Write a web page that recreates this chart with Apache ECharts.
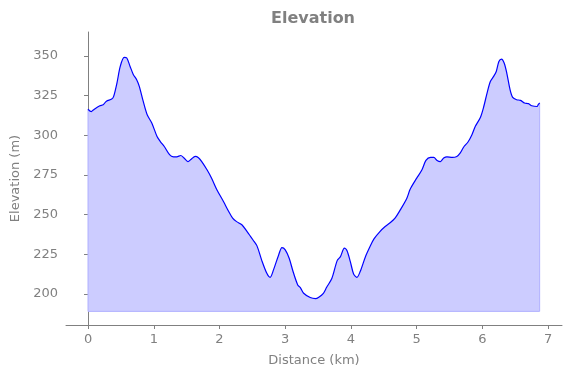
<!DOCTYPE html>
<html>
<head>
<meta charset="utf-8">
<script src="https://cdn.jsdelivr.net/npm/echarts@6/dist/echarts.min.js"></script>
<style>
  html, body { margin: 0; padding: 0; background: #fff; }
  #chart { width: 571px; height: 378px; }
</style>
</head>
<body>
<div id="chart"></div>
<script>
// distance along the track (km)
const distance = [
  0.00, 0.05, 0.08, 0.18, 0.23, 0.28, 0.36, 0.39, 0.44, 0.49,
  0.55, 0.59, 0.64, 0.69, 0.74, 0.78, 0.84, 0.90, 0.97, 1.05,
  1.10, 1.16, 1.24, 1.30, 1.35, 1.41, 1.46, 1.52, 1.57, 1.63,
  1.68, 1.73, 1.81, 1.88, 1.96, 2.06, 2.14, 2.20, 2.26, 2.34,
  2.42, 2.51, 2.57, 2.64, 2.72, 2.77, 2.82, 2.90, 2.95, 3.00,
  3.06, 3.12, 3.19, 3.23, 3.28, 3.38, 3.46, 3.51, 3.58, 3.63,
  3.71, 3.79, 3.84, 3.90, 3.94, 3.99, 4.04, 4.09, 4.14, 4.22,
  4.29, 4.35, 4.44, 4.52, 4.60, 4.67, 4.75, 4.85, 4.90, 5.00,
  5.08, 5.14, 5.21, 5.26, 5.31, 5.36, 5.41, 5.46, 5.54, 5.61,
  5.66, 5.72, 5.78, 5.84, 5.89, 5.97, 6.02, 6.07, 6.12, 6.17,
  6.21, 6.25, 6.29, 6.33, 6.37, 6.42, 6.46, 6.52, 6.58, 6.64,
  6.70, 6.75, 6.83, 6.85, 6.87
];
// elevation (m)
const elevation = [
  316.5, 315.0, 316.0, 318.7, 319.3, 321.6, 322.9, 324.6, 333.0, 343.5,
  349.2, 348.8, 343.5, 338.3, 335.1, 330.9, 321.4, 313.0, 307.8, 299.3,
  296.1, 293.0, 287.8, 286.5, 286.5, 287.3, 285.7, 283.5, 285.0, 286.7,
  285.9, 283.5, 278.3, 273.0, 265.7, 258.3, 252.0, 247.8, 245.6, 243.6,
  239.3, 234.0, 230.3, 221.5, 213.0, 210.5, 215.0, 224.6, 229.2, 227.8,
  222.5, 214.0, 205.7, 204.0, 200.4, 197.7, 197.0, 197.9, 200.4, 204.2,
  209.9, 221.0, 223.5, 228.9, 227.3, 220.4, 212.6, 210.5, 214.1, 223.5,
  229.9, 234.7, 239.3, 242.5, 245.0, 247.8, 253.0, 260.4, 266.0, 273.0,
  278.3, 284.2, 286.1, 286.1, 284.2, 283.5, 285.7, 286.5, 286.1, 286.7,
  288.8, 293.0, 295.8, 300.4, 305.6, 311.5, 318.2, 326.7, 334.0, 337.2,
  340.3, 346.6, 348.1, 345.6, 339.3, 328.8, 324.0, 322.5, 322.1, 320.4,
  320.0, 318.7, 318.2, 319.5, 320.5
];
const xTicks = [0, 1, 2, 3, 4, 5, 6, 7];
const yTicks = [200, 225, 250, 275, 300, 325, 350];
const fillBase = 189;

const chart = echarts.init(document.getElementById('chart'));
const gray = '#808080';
const font = 'DejaVu Sans';

const last = distance.length - 1;
// outline of the filled region (left side, base, right side)
const fillEdge = [
  [distance[0], elevation[0]],
  [distance[0], fillBase],
  [distance[last], fillBase],
  [distance[last], elevation[last]]
];

const options = {
  animation: false,
  title: {
    text: 'Elevation',
    left: 266,
    top: 6,
    textStyle: { color: gray, fontSize: 16, fontWeight: 'bold', fontFamily: font }
  },
  grid: { left: 66, right: 9, top: 32, bottom: 53 },
  xAxis: {
    type: 'value',
    min: -0.335,
    max: 7.21,
    name: 'Distance (km)',
    nameLocation: 'middle',
    nameGap: 29,
    nameTextStyle: { color: gray, fontSize: 13, fontFamily: font },
    axisLine: { lineStyle: { color: gray } },
    axisTick: { length: 4, lineStyle: { color: gray }, customValues: xTicks },
    axisLabel: { color: gray, fontSize: 13, fontFamily: font, margin: 8, customValues: xTicks },
    splitLine: { show: false }
  },
  yAxis: {
    type: 'value',
    min: 180.4,
    max: 365.2,
    name: 'Elevation (m)',
    nameLocation: 'middle',
    nameGap: 44,
    nameTextStyle: { color: gray, fontSize: 13, fontFamily: font },
    axisLine: { show: true, lineStyle: { color: gray } },
    axisTick: { show: true, length: 4, lineStyle: { color: gray }, customValues: yTicks },
    axisLabel: { color: gray, fontSize: 13, fontFamily: font, margin: 8, customValues: yTicks },
    splitLine: { show: false }
  },
  series: [{
    type: 'line',
    data: fillEdge,
    showSymbol: false,
    silent: true,
    lineStyle: { color: '#b0b0ff', width: 1 }
  }, {
    type: 'line',
    data: distance.map((d, i) => [d, elevation[i]]),
    showSymbol: false,
    smooth: 0.3,
    lineStyle: { color: '#0000ff', width: 1.2 },
    areaStyle: { color: '#ccccff', opacity: 1, origin: fillBase }
  }]
};
chart.setOption(options);
</script>
</body>
</html>
